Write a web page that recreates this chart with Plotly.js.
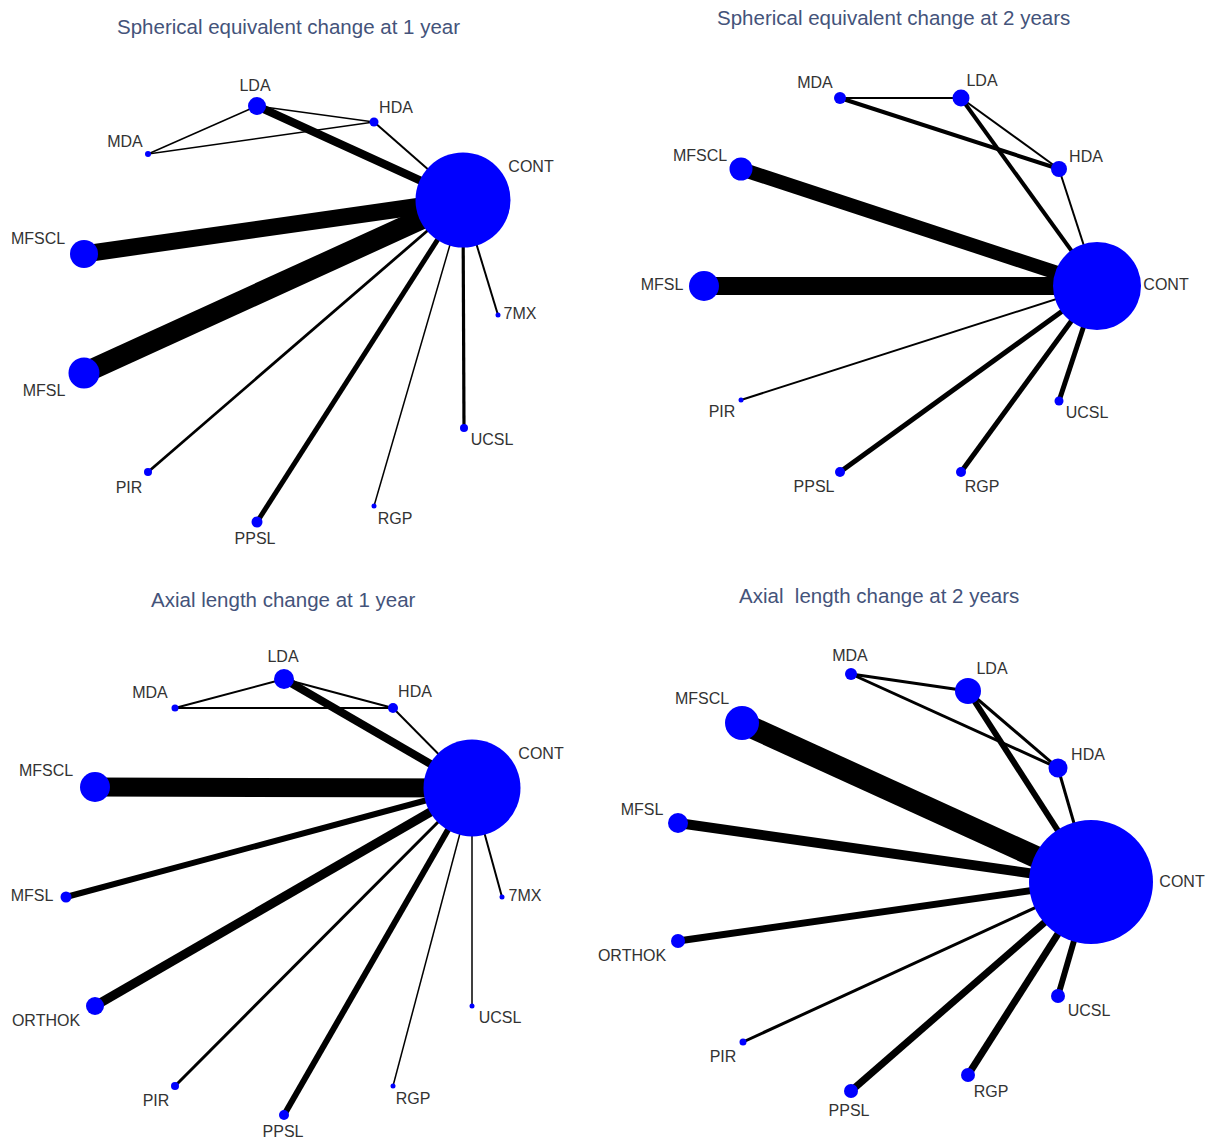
<!DOCTYPE html>
<html><head><meta charset="utf-8">
<script src="https://cdn.plot.ly/plotly-3.0.1.min.js"></script>
<style>html,body{margin:0;padding:0;background:#fff}</style>
</head><body><div id="chart" style="width:1212px;height:1142px"></div>
<script>
// ---- Panel titles ----
const titles = ["Spherical equivalent change at 1 year","Spherical equivalent change at 2 years","Axial length change at 1 year","Axial  length change at 2 years"];
const titleX = [288, 893, 283, 879];
const titleY = [26, 17, 599, 595];

// ---- Panel 1: Spherical equivalent change at 1 year ----
const p1Nodes = ["CONT","LDA","HDA","MDA","MFSCL","MFSL","PIR","PPSL","RGP","UCSL","7MX"];
const p1X = [463,257,374,148,84,84,148,257,374,464,498];
const p1Y = [200,106,122,154,254,373,472,522,506,428,315];
const p1Size = [95,18,9,6,28,31,8,11,5,8,5];
const p1LabX = [531,255,396,125,38,44,129,255,395,492,520];
const p1LabY = [168,87,109,143,240,392,489,540,520,441,315];
const p1From = ["LDA","LDA","LDA","MDA","HDA","MFSCL","MFSL","PIR","PPSL","RGP","UCSL","7MX"];
const p1To = ["CONT","HDA","MDA","HDA","CONT","CONT","CONT","CONT","CONT","CONT","CONT","CONT"];
const p1W = [8,1.6,1.5,1.5,2,17,21,2.8,5,1.5,3.2,2];

// ---- Panel 2: Spherical equivalent change at 2 years ----
const p2Nodes = ["CONT","MDA","LDA","HDA","MFSCL","MFSL","PIR","PPSL","RGP","UCSL"];
const p2X = [1097,840,961,1059,741,704,741,840,961,1059];
const p2Y = [286,98,98,169,169,286,400,472,472,401];
const p2Size = [88,12,17,16,23,30,5,10,10,9];
const p2LabX = [1166,815,982,1086,700,662,722,814,982,1087];
const p2LabY = [286,84,82,158,157,286,413,488,488,414];
const p2From = ["MDA","MDA","LDA","LDA","HDA","MFSCL","MFSL","PIR","PPSL","RGP","UCSL"];
const p2To = ["LDA","HDA","HDA","CONT","CONT","CONT","CONT","CONT","CONT","CONT","CONT"];
const p2W = [2,4,2,4,2,14,18,2,5,5,5];

// ---- Panel 3: Axial length change at 1 year ----
const p3Nodes = ["CONT","LDA","MDA","HDA","MFSCL","MFSL","ORTHOK","PIR","PPSL","RGP","UCSL","7MX"];
const p3X = [472,284,175,393,95,66,95,175,284,393,472,502];
const p3Y = [788,679,708,708,787,897,1006,1086,1115,1086,1006,897];
const p3Size = [97,20,7,10,30,11,18,8,10,5,5,5];
const p3LabX = [541,283,150,415,46,32,46,156,283,413,500,525];
const p3LabY = [755,658,694,693,772,897,1022,1102,1133,1100,1019,897];
const p3From = ["LDA","LDA","MDA","LDA","HDA","MFSCL","MFSL","ORTHOK","PIR","PPSL","RGP","UCSL","7MX"];
const p3To = ["MDA","HDA","HDA","CONT","CONT","CONT","CONT","CONT","CONT","CONT","CONT","CONT","CONT"];
const p3W = [2,2,2,8,2,19,6,9,3,6,1.5,1.5,2];

// ---- Panel 4: Axial length change at 2 years ----
const p4Nodes = ["CONT","MDA","LDA","HDA","MFSCL","MFSL","ORTHOK","PIR","PPSL","RGP","UCSL"];
const p4X = [1091,851,968,1058,742,678,678,743,851,968,1058];
const p4Y = [882,674,691,768,723,823,941,1042,1091,1075,996];
const p4Size = [124,12,26,19,34,20,14,7,14,14,14];
const p4LabX = [1182,850,992,1088,702,642,632,723,849,991,1089];
const p4LabY = [883,657,670,756,700,811,957,1058,1112,1093,1012];
const p4From = ["MDA","MDA","LDA","LDA","HDA","MFSCL","MFSL","ORTHOK","PIR","PPSL","RGP","UCSL"];
const p4To = ["LDA","HDA","HDA","CONT","CONT","CONT","CONT","CONT","CONT","CONT","CONT","CONT"];
const p4W = [3,3,3,6,3,22,10,7,3,7,7,6];

const panels = [
  {n:p1Nodes,x:p1X,y:p1Y,s:p1Size,lx:p1LabX,ly:p1LabY,f:p1From,t:p1To,w:p1W},
  {n:p2Nodes,x:p2X,y:p2Y,s:p2Size,lx:p2LabX,ly:p2LabY,f:p2From,t:p2To,w:p2W},
  {n:p3Nodes,x:p3X,y:p3Y,s:p3Size,lx:p3LabX,ly:p3LabY,f:p3From,t:p3To,w:p3W},
  {n:p4Nodes,x:p4X,y:p4Y,s:p4Size,lx:p4LabX,ly:p4LabY,f:p4From,t:p4To,w:p4W}
];

const traces = [];
panels.forEach(p => {
  p.f.forEach((a,i) => {
    const ia = p.n.indexOf(a), ib = p.n.indexOf(p.t[i]);
    traces.push({type:'scatter',mode:'lines',x:[p.x[ia],p.x[ib]],y:[p.y[ia],p.y[ib]],
      line:{color:'#000',width:p.w[i]},hoverinfo:'skip',showlegend:false});
  });
});
panels.forEach(p => {
  traces.push({type:'scatter',mode:'markers',x:p.x,y:p.y,text:p.n,opacity:1,
    marker:{color:'#0000ff',size:p.s,opacity:1,line:{width:0}},hoverinfo:'text',showlegend:false});
  traces.push({type:'scatter',mode:'text',x:p.lx,y:p.ly,text:p.n,textposition:'middle center',
    textfont:{family:'Liberation Sans, Arial, sans-serif',size:16,color:'#333333'},hoverinfo:'skip',showlegend:false});
});

const annotations = titles.map((t,i)=>({text:t,x:titleX[i],y:titleY[i],xref:'x',yref:'y',showarrow:false,
  font:{family:'Liberation Sans, Arial, sans-serif',size:20.5,color:'#44537a'}}));

const layout = {
  width:1212,height:1142,margin:{l:0,r:0,t:0,b:0},
  paper_bgcolor:'#fff',plot_bgcolor:'#fff',
  xaxis:{range:[0,1212],visible:false,fixedrange:true},
  yaxis:{range:[1142,0],visible:false,fixedrange:true},
  annotations:annotations,showlegend:false
};
Plotly.newPlot('chart',traces,layout,{displayModeBar:false,staticPlot:true});
</script></body></html>
